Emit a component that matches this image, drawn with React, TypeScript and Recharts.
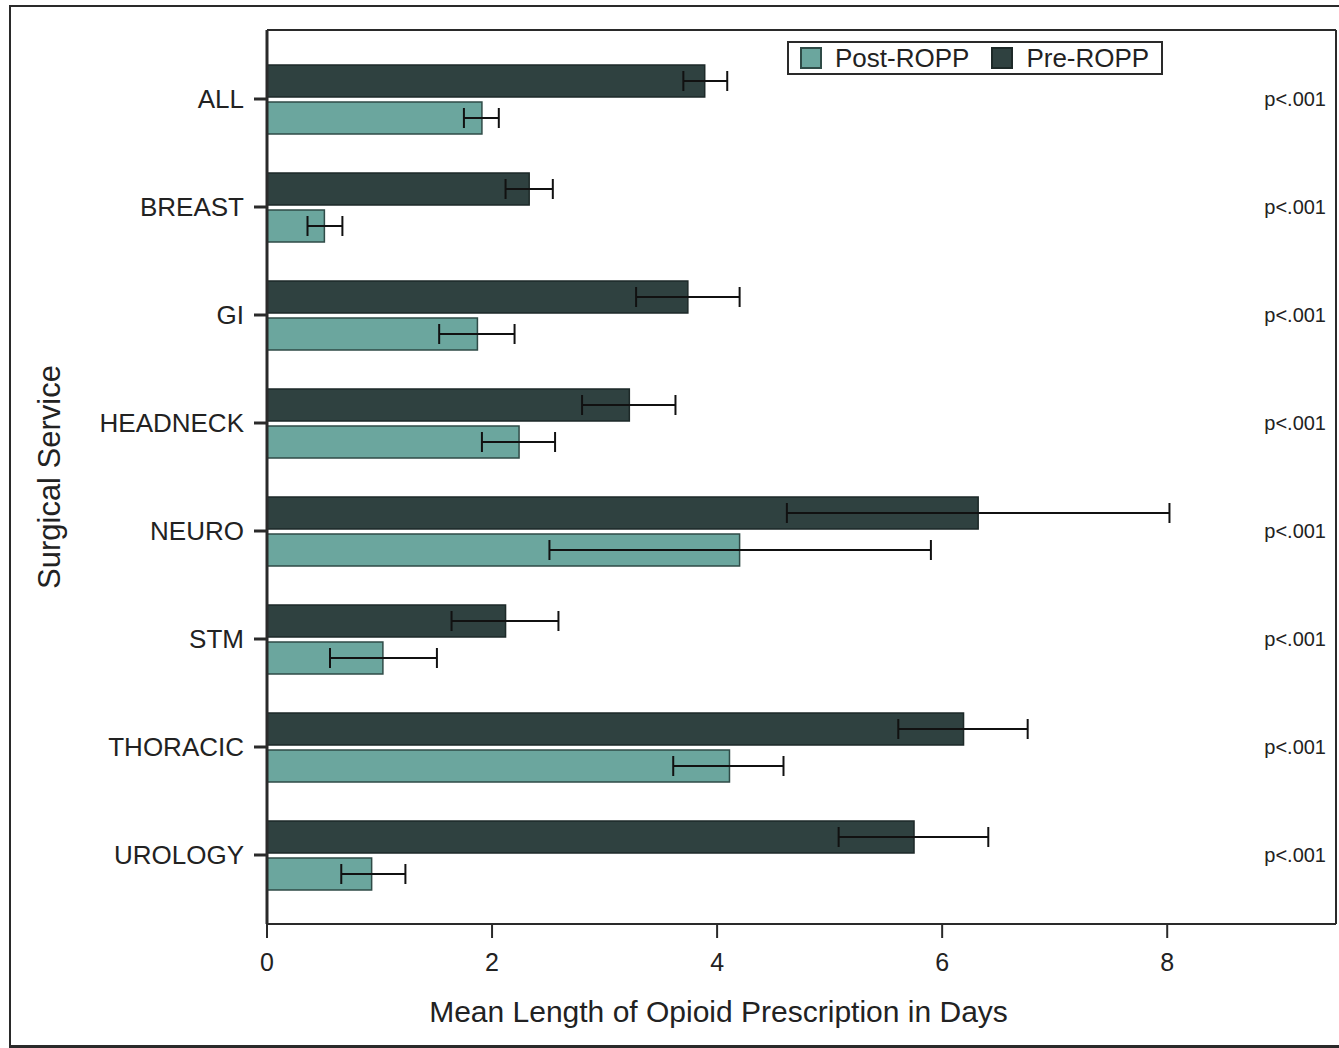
import React from "react";
import { Bar, BarChart, ErrorBar, Legend, XAxis, YAxis } from "recharts";

const categories = ["ALL", "BREAST", "GI", "HEADNECK", "NEURO", "STM", "THORACIC", "UROLOGY"];

const preMean = [3.89, 2.33, 3.74, 3.22, 6.32, 2.12, 6.19, 5.75];
const preLow = [3.7, 2.12, 3.28, 2.8, 4.62, 1.64, 5.61, 5.08];
const preHigh = [4.09, 2.54, 4.2, 3.63, 8.02, 2.59, 6.76, 6.41];

const postMean = [1.91, 0.51, 1.87, 2.24, 4.2, 1.03, 4.11, 0.93];
const postLow = [1.75, 0.36, 1.53, 1.91, 2.51, 0.56, 3.61, 0.66];
const postHigh = [2.06, 0.67, 2.2, 2.56, 5.9, 1.51, 4.59, 1.23];

const pValues = ["p<.001", "p<.001", "p<.001", "p<.001", "p<.001", "p<.001", "p<.001", "p<.001"];

const xTicks = [0, 2, 4, 6, 8];
const X_MAX = 9.5;

const COLORS = {
  pre: "#2f4140",
  preStroke: "#1d2928",
  post: "#6ba69e",
  postStroke: "#2f4b47",
  text: "#222222",
  frame: "#2a2a2a",
};

const LEGEND_ITEMS = [
  { label: "Post-ROPP", fill: COLORS.post, stroke: COLORS.postStroke },
  { label: "Pre-ROPP", fill: COLORS.pre, stroke: COLORS.preStroke },
];

const FONT = '"Liberation Sans", Arial, sans-serif';

// chart box and margins (plot area: x 267..1336, y 30..924)
const CHART_W = 1339;
const CHART_H = 1048;
const MARGIN = { top: 30, right: 3, bottom: 14, left: 20 };
const Y_AXIS_W = 247;

const data = categories.map((name, i) => ({
  name,
  pre: preMean[i],
  preErr: [preMean[i] - preLow[i], preHigh[i] - preMean[i]],
  post: postMean[i],
  postErr: [postMean[i] - postLow[i], postHigh[i] - postMean[i]],
}));

function LegendBox() {
  return (
    <div
      style={{
        boxSizing: "border-box",
        width: 376,
        height: 34,
        border: `2px solid ${COLORS.frame}`,
        background: "#fff",
        display: "flex",
        alignItems: "center",
        paddingLeft: 11,
        fontFamily: FONT,
        fontSize: 26,
        color: COLORS.text,
        whiteSpace: "nowrap",
      }}
    >
      {LEGEND_ITEMS.map((item) => (
        <div key={item.label} style={{ display: "flex", alignItems: "center", flexShrink: 0, marginRight: 22 }}>
          <span
            style={{
              boxSizing: "border-box",
              flexShrink: 0,
              width: 22,
              height: 22,
              background: item.fill,
              border: `2px solid ${item.stroke}`,
              marginRight: 13,
            }}
          />
          <span style={{ lineHeight: "26px" }}>{item.label}</span>
        </div>
      ))}
    </div>
  );
}

export default function App() {
  const plotLeft = MARGIN.left + Y_AXIS_W;
  const plotRight = CHART_W - MARGIN.right;

  return (
    <div style={{ position: "absolute", left: 0, top: 0, width: CHART_W, height: CHART_H, background: "#fff" }}>
      <div
        style={{
          position: "absolute",
          left: 9,
          top: 5,
          width: 1330,
          height: 1038,
          borderTop: `2px solid ${COLORS.frame}`,
          borderLeft: `2px solid ${COLORS.frame}`,
          borderBottom: `3px solid ${COLORS.frame}`,
        }}
      />
      <div style={{ position: "absolute", left: 0, top: 0 }}>
        <BarChart
          width={CHART_W}
          height={CHART_H}
          data={data}
          layout="vertical"
          margin={MARGIN}
          barSize={32}
          barGap={5}
          style={{ fontFamily: FONT }}
        >
          <XAxis
            type="number"
            domain={[0, X_MAX]}
            ticks={xTicks}
            allowDataOverflow
            height={110}
            tickSize={14}
            tickMargin={15}
            tick={{ fontSize: 25, fill: COLORS.text, fontFamily: FONT }}
            stroke={COLORS.frame}
            strokeWidth={2}
            label={{
              value: "Mean Length of Opioid Prescription in Days",
              position: "insideBottom",
              offset: 12,
              dx: -83,
              fontSize: 30,
              fill: COLORS.text,
              fontFamily: FONT,
            }}
          />
          <YAxis
            type="category"
            dataKey="name"
            width={Y_AXIS_W}
            padding={{ top: 15, bottom: 15 }}
            tickSize={13}
            tickMargin={10}
            tick={{ fontSize: 26, fill: COLORS.text, fontFamily: FONT }}
            stroke={COLORS.frame}
            strokeWidth={3}
            label={{
              value: "Surgical Service",
              angle: -90,
              position: "insideLeft",
              offset: 29,
              fontSize: 31,
              fill: COLORS.text,
              fontFamily: FONT,
              style: { textAnchor: "middle" },
            }}
          />
          <YAxis
            yAxisId="p"
            orientation="right"
            type="category"
            dataKey="name"
            mirror
            padding={{ top: 15, bottom: 15 }}
            tickLine={false}
            tickSize={0}
            tickMargin={10}
            tickFormatter={(_, i) => pValues[i]}
            tick={{ fontSize: 20, fill: COLORS.text, fontFamily: FONT }}
            stroke={COLORS.frame}
            strokeWidth={2}
          />
          <Legend
            layout="vertical"
            align="center"
            verticalAlign="middle"
            content={() => <LegendBox />}
            wrapperStyle={{ left: 787, top: 41, width: 376, height: 34 }}
          />
          <Bar dataKey="pre" name="Pre-ROPP" fill={COLORS.pre} stroke={COLORS.preStroke} strokeWidth={1.5} isAnimationActive={false}>
            <ErrorBar dataKey="preErr" direction="x" width={10} stroke="#111" strokeWidth={2} isAnimationActive={false} />
          </Bar>
          <Bar dataKey="post" name="Post-ROPP" fill={COLORS.post} stroke={COLORS.postStroke} strokeWidth={1.5} isAnimationActive={false}>
            <ErrorBar dataKey="postErr" direction="x" width={10} stroke="#111" strokeWidth={2} isAnimationActive={false} />
          </Bar>
        </BarChart>
      </div>
      {/* top edge of the plot frame */}
      <div
        style={{
          position: "absolute",
          left: plotLeft,
          top: MARGIN.top - 1,
          width: plotRight - plotLeft,
          height: 2,
          background: COLORS.frame,
        }}
      />
    </div>
  );
}
